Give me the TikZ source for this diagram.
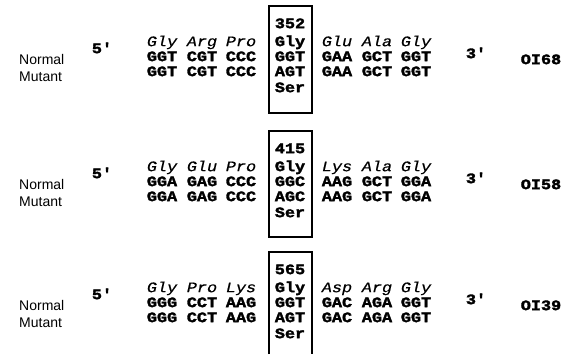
\documentclass[tikz,border=0pt]{standalone}
\usepackage{fontspec}
\setmainfont{Liberation Serif}
\newfontfamily\sansf{Liberation Sans}
\newfontfamily\monof{Liberation Mono}[FakeStretch=1.16, BoldFeatures={FakeBold=2.2}, ItalicFeatures={FakeBold=0.6}]
\def\colx{{162,202,241,290,337,377,416}}
\newcommand\dnapanel[8]{%
  \foreach \t [count=\i] in {#4} {\pgfmathsetmacro\xx{\colx[\i-1]}\node[amino] (#1aa\i) at (\xx,42+#2) {\t};}
  \node[codon] (#1aa4) at (290,42+#2) {Gly};
  \foreach \t [count=\i from 5] in {#5} {\pgfmathsetmacro\xx{\colx[\i-1]}\node[amino] (#1aa\i) at (\xx,42+#2) {\t};}
  \foreach \t [count=\i] in {#6} {\pgfmathsetmacro\xx{\colx[\i-1]}\node[codon] (#1n\i) at (\xx,57+#2) {\t};}
  \foreach \t [count=\i] in {#7} {\pgfmathsetmacro\xx{\colx[\i-1]}\node[codon] (#1m\i) at (\xx,72+#2) {\t};}
  \node[codon] (#1num) at (290,24+#2) {#3};
  \node[codon] (#1ser) at (290,88+#2) {Ser};
  \node[lab] (#1normal) at (19,59.5+#2) {Normal};
  \node[lab] (#1mutant) at (19,76+#2) {Mutant};
  \node[codon] (#1five) at (102,49+#2) {5'};
  \node[codon] (#1three) at (476,54+#2) {3'};
  \node[codon] (#1oi) at (541,60+#2) {#8};
}
\begin{document}
\begin{tikzpicture}[x=1bp,y=-1bp,
  codon/.style={font=\monof\bfseries\fontsize{14.5bp}{16bp}\selectfont, inner sep=0pt, text height=8.3bp, text depth=0pt},
  amino/.style={font=\monof\itshape\fontsize{14.5bp}{16bp}\selectfont, inner sep=0pt, text height=8.3bp, text depth=0pt},
  lab/.style={font=\sansf\fontsize{14bp}{16bp}\selectfont, anchor=west, inner sep=0pt, text height=10bp, text depth=0pt},
  boxline/.style={line width=1.3bp}]
\useasboundingbox (0,0) rectangle (569,354);
\dnapanel{p1}{0}{352}{Gly,Arg,Pro}{Glu,Ala,Gly}{GGT,CGT,CCC,GGT,GAA,GCT,GGT}{GGT,CGT,CCC,AGT,GAA,GCT,GGT}{OI68}
\dnapanel{p2}{125}{415}{Gly,Glu,Pro}{Lys,Ala,Gly}{GGA,GAG,CCC,GGC,AAG,GCT,GGA}{GGA,GAG,CCC,AGC,AAG,GCT,GGA}{OI58}
\dnapanel{p3}{246}{565}{Gly,Pro,Lys}{Asp,Arg,Gly}{GGG,CCT,AAG,GGT,GAC,AGA,GGT}{GGG,CCT,AAG,AGT,GAC,AGA,GGT}{OI39}
\draw[boxline] (269,6) rectangle (312,113);
\draw[boxline] (269,131) rectangle (312,237);
\draw[boxline] (269,354) -- (269,252) -- (312,252) -- (312,354);
\end{tikzpicture}
\end{document}
